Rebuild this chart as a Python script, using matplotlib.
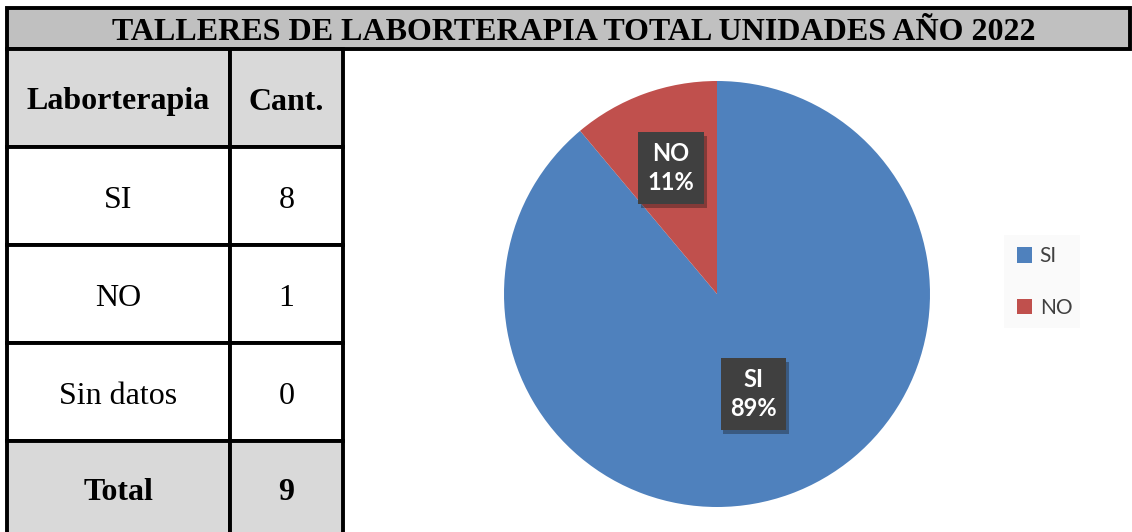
import matplotlib
matplotlib.use("Agg")
import matplotlib.pyplot as plt
import matplotlib.patheffects as pe
from matplotlib.patches import Rectangle, Patch
import numpy as np

# data
title = "TALLERES DE LABORTERAPIA TOTAL UNIDADES AÑO 2022"
header = ["Laborterapia", "Cant."]
categories = ["SI", "NO", "Sin datos"]
counts = [8, 1, 0]
total_label = "Total"
total = sum(counts)

pie_labels = ["SI", "NO"]
pie_values = [8, 1]
pie_colors = ["#4f81bd", "#c0504d"]

W, H = 1132, 532
fig = plt.figure(figsize=(W / 100, H / 100), dpi=100)
fig.patch.set_facecolor("white")

# pixel-coordinate overlay for the title bar and the table
ax = fig.add_axes([0, 0, 1, 1])
ax.set_xlim(0, W)
ax.set_ylim(H, 0)
ax.axis("off")

lw = 2.8
serif = "Liberation Serif"

ax.add_patch(Rectangle((7, 8), 1123, 41, fc="#c0c0c0", ec="black", lw=lw))
ax.text(574, 32, title, ha="center", va="center", fontsize=23,
        fontweight="bold", family=serif)

col_x = [7, 230, 343]
row_y = [49, 147, 245, 343, 441, 540]
rows = [header] + [[c, str(n)] for c, n in zip(categories, counts)] + [[total_label, str(total)]]
for i, row in enumerate(rows):
    shaded = i == 0 or i == len(rows) - 1
    for j, txt in enumerate(row):
        x0, x1 = col_x[j], col_x[j + 1]
        y0, y1 = row_y[i], row_y[i + 1]
        ax.add_patch(Rectangle((x0, y0), x1 - x0, y1 - y0,
                               fc="#d9d9d9" if shaded else "white",
                               ec="black", lw=lw))
        ym = (y0 + y1) / 2 + 4 if i < len(rows) - 1 else 493
        ax.text((x0 + x1) / 2, ym, txt, ha="center", va="center",
                fontsize=23, family=serif,
                fontweight="bold" if shaded else "normal")

# faint legend panel
ax.add_patch(Rectangle((1004, 235), 76, 93, fc="#fafafa", ec="none"))

# pie
cx, cy, r = 717, 294, 213
pax = fig.add_axes([(cx - r) / W, (H - cy - r) / H, 2 * r / W, 2 * r / H])
wedges, _ = pax.pie(pie_values, colors=pie_colors, startangle=90,
                    counterclock=False, radius=1)
pax.set_xlim(-1, 1)
pax.set_ylim(-1, 1)
pax.set_aspect("equal")

label_dist = [0.5, 0.63]
for w, lab, val, d in zip(wedges, pie_labels, pie_values, label_dist):
    ang = np.deg2rad((w.theta1 + w.theta2) / 2)
    pct = round(100 * val / sum(pie_values))
    t = pax.text(d * np.cos(ang), d * np.sin(ang), f"{lab}\n{pct}%",
                 ha="center", va="center", fontsize=17, fontweight="bold",
                 family="Lato", color="white", linespacing=1.35,
                 bbox=dict(boxstyle="square,pad=0.4", fc="#404040", ec="none"))
    t.get_bbox_patch().set_path_effects(
        [pe.SimplePatchShadow(offset=(2, -3), alpha=0.35), pe.Normal()])

handles = [Patch(fc=c, ec="none") for c in pie_colors]
fig.legend(handles, pie_labels, loc="center left",
           bbox_to_anchor=(998 / W, 1 - 282 / H), frameon=False,
           handlelength=0.75, handleheight=0.75, handletextpad=0.35,
           labelspacing=1.5, prop={"family": "Lato", "size": 15},
           labelcolor="#404040")

fig.savefig("out.png", dpi=100)
